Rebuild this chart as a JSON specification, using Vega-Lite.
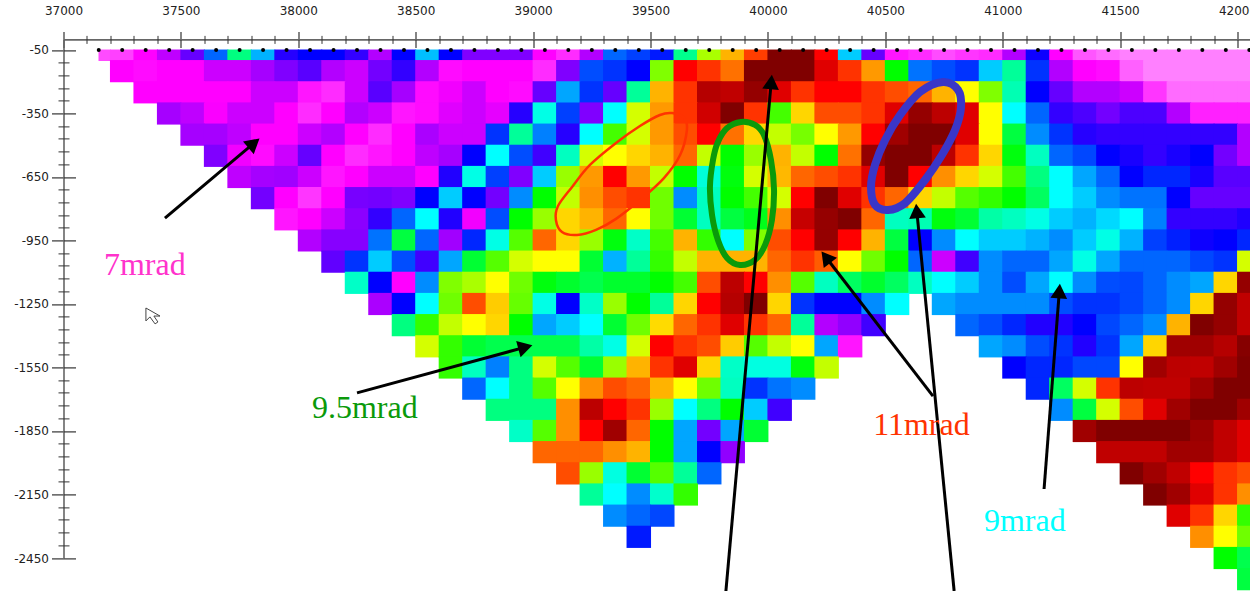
{"$schema":"https://vega.github.io/schema/vega-lite/v6.json","width":1186.5,"height":518.6,"autosize":{"type":"none"},"padding":{"left":63.5,"top":39.4,"right":0,"bottom":33},"background":"white","config":{"view":{"stroke":null},"axis":{"grid":false}},
"datasets":{"cells":[
{"x":37250,"y":-150,"v":7},{"x":37350,"y":-150,"v":6.95},{"x":37450,"y":-150,"v":7},{"x":37550,"y":-150,"v":7},{"x":37650,"y":-150,"v":7.2},{"x":37750,"y":-150,"v":7.2},{"x":37850,"y":-150,"v":7.35},{"x":37950,"y":-150,"v":7.5},{"x":38050,"y":-150,"v":7.65},{"x":38150,"y":-150,"v":7.3},{"x":38250,"y":-150,"v":7.2},{"x":38350,"y":-150,"v":7.55},{"x":38450,"y":-150,"v":7.8},{"x":38550,"y":-150,"v":7.3},{"x":38650,"y":-150,"v":6.95},{"x":38750,"y":-150,"v":7},{"x":38850,"y":-150,"v":7},{"x":38950,"y":-150,"v":7},{"x":39050,"y":-150,"v":6.8},{"x":39150,"y":-150,"v":7.5},{"x":39250,"y":-150,"v":8.3},{"x":39350,"y":-150,"v":8.2},{"x":39450,"y":-150,"v":8},{"x":39550,"y":-150,"v":9.85},{"x":39650,"y":-150,"v":10.5},{"x":39750,"y":-150,"v":10.4},{"x":39850,"y":-150,"v":10.28},{"x":39950,"y":-150,"v":11},{"x":40050,"y":-150,"v":11},{"x":40150,"y":-150,"v":11},{"x":40250,"y":-150,"v":10.6},{"x":40350,"y":-150,"v":10.4},{"x":40450,"y":-150,"v":10.2},{"x":40550,"y":-150,"v":9.7},{"x":40650,"y":-150,"v":8.45},{"x":40750,"y":-150,"v":8.3},{"x":40850,"y":-150,"v":8.2},{"x":40950,"y":-150,"v":8.8},{"x":41050,"y":-150,"v":9.4},{"x":41150,"y":-150,"v":8.2},{"x":41250,"y":-150,"v":7.3},{"x":41350,"y":-150,"v":7},{"x":41450,"y":-150,"v":6.95},{"x":41550,"y":-150,"v":6.55},{"x":41650,"y":-150,"v":6.4},{"x":41750,"y":-150,"v":6.4},{"x":41850,"y":-150,"v":6.4},{"x":41950,"y":-150,"v":6.4},{"x":42050,"y":-150,"v":6.4},
{"x":37350,"y":-250,"v":7},{"x":37450,"y":-250,"v":7},{"x":37550,"y":-250,"v":7},{"x":37650,"y":-250,"v":7},{"x":37750,"y":-250,"v":7},{"x":37850,"y":-250,"v":7.2},{"x":37950,"y":-250,"v":7.2},{"x":38050,"y":-250,"v":6.9},{"x":38150,"y":-250,"v":6.8},{"x":38250,"y":-250,"v":7.2},{"x":38350,"y":-250,"v":7.65},{"x":38450,"y":-250,"v":7.35},{"x":38550,"y":-250,"v":6.95},{"x":38650,"y":-250,"v":7.05},{"x":38750,"y":-250,"v":7.2},{"x":38850,"y":-250,"v":7},{"x":38950,"y":-250,"v":6.95},{"x":39050,"y":-250,"v":7.6},{"x":39150,"y":-250,"v":8.65},{"x":39250,"y":-250,"v":8.2},{"x":39350,"y":-250,"v":7.6},{"x":39450,"y":-250,"v":9.4},{"x":39550,"y":-250,"v":10.15},{"x":39650,"y":-250,"v":10.4},{"x":39750,"y":-250,"v":10.75},{"x":39850,"y":-250,"v":10.7},{"x":39950,"y":-250,"v":10.9},{"x":40050,"y":-250,"v":10.6},{"x":40150,"y":-250,"v":10.4},{"x":40250,"y":-250,"v":10.5},{"x":40350,"y":-250,"v":10.5},{"x":40450,"y":-250,"v":10.4},{"x":40550,"y":-250,"v":10.35},{"x":40650,"y":-250,"v":10.3},{"x":40750,"y":-250,"v":10.15},{"x":40850,"y":-250,"v":10},{"x":40950,"y":-250,"v":9.85},{"x":41050,"y":-250,"v":9.3},{"x":41150,"y":-250,"v":8},{"x":41250,"y":-250,"v":7.6},{"x":41350,"y":-250,"v":7.3},{"x":41450,"y":-250,"v":7.3},{"x":41550,"y":-250,"v":7.2},{"x":41650,"y":-250,"v":6.75},{"x":41750,"y":-250,"v":6.5},{"x":41850,"y":-250,"v":6.5},{"x":41950,"y":-250,"v":6.5},{"x":42050,"y":-250,"v":6.5},
{"x":37450,"y":-350,"v":7.35},{"x":37550,"y":-350,"v":7.25},{"x":37650,"y":-350,"v":7.02},{"x":37750,"y":-350,"v":7.2},{"x":37850,"y":-350,"v":7.2},{"x":37950,"y":-350,"v":7},{"x":38050,"y":-350,"v":6.8},{"x":38150,"y":-350,"v":7},{"x":38250,"y":-350,"v":7.3},{"x":38350,"y":-350,"v":7.2},{"x":38450,"y":-350,"v":6.9},{"x":38550,"y":-350,"v":6.95},{"x":38650,"y":-350,"v":7.12},{"x":38750,"y":-350,"v":7.2},{"x":38850,"y":-350,"v":7.1},{"x":38950,"y":-350,"v":7.85},{"x":39050,"y":-350,"v":9.1},{"x":39150,"y":-350,"v":8.25},{"x":39250,"y":-350,"v":7.5},{"x":39350,"y":-350,"v":9},{"x":39450,"y":-350,"v":9.95},{"x":39550,"y":-350,"v":10.2},{"x":39650,"y":-350,"v":10.4},{"x":39750,"y":-350,"v":10.65},{"x":39850,"y":-350,"v":11},{"x":39950,"y":-350,"v":10.4},{"x":40050,"y":-350,"v":9.78},{"x":40150,"y":-350,"v":10.08},{"x":40250,"y":-350,"v":10.35},{"x":40350,"y":-350,"v":10.35},{"x":40450,"y":-350,"v":10.4},{"x":40550,"y":-350,"v":10.6},{"x":40650,"y":-350,"v":10.9},{"x":40750,"y":-350,"v":10.72},{"x":40850,"y":-350,"v":10.6},{"x":40950,"y":-350,"v":10},{"x":41050,"y":-350,"v":9},{"x":41150,"y":-350,"v":8.4},{"x":41250,"y":-350,"v":7.8},{"x":41350,"y":-350,"v":7.7},{"x":41450,"y":-350,"v":7.55},{"x":41550,"y":-350,"v":7.7},{"x":41650,"y":-350,"v":7.7},{"x":41750,"y":-350,"v":7.3},{"x":41850,"y":-350,"v":6.85},{"x":41950,"y":-350,"v":6.85},{"x":42050,"y":-350,"v":6.85},
{"x":37550,"y":-450,"v":7.35},{"x":37650,"y":-450,"v":7.35},{"x":37750,"y":-450,"v":7.25},{"x":37850,"y":-450,"v":7},{"x":37950,"y":-450,"v":7},{"x":38050,"y":-450,"v":7.2},{"x":38150,"y":-450,"v":7.3},{"x":38250,"y":-450,"v":7},{"x":38350,"y":-450,"v":6.8},{"x":38450,"y":-450,"v":7},{"x":38550,"y":-450,"v":7.33},{"x":38650,"y":-450,"v":7.2},{"x":38750,"y":-450,"v":7.2},{"x":38850,"y":-450,"v":8.2},{"x":38950,"y":-450,"v":9.4},{"x":39050,"y":-450,"v":8.5},{"x":39150,"y":-450,"v":7.85},{"x":39250,"y":-450,"v":9},{"x":39350,"y":-450,"v":9.78},{"x":39450,"y":-450,"v":9.95},{"x":39550,"y":-450,"v":10.2},{"x":39650,"y":-450,"v":10.35},{"x":39750,"y":-450,"v":10.5},{"x":39850,"y":-450,"v":10.28},{"x":39950,"y":-450,"v":10.08},{"x":40050,"y":-450,"v":9.93},{"x":40150,"y":-450,"v":9.84},{"x":40250,"y":-450,"v":10},{"x":40350,"y":-450,"v":10.2},{"x":40450,"y":-450,"v":10.5},{"x":40550,"y":-450,"v":10.85},{"x":40650,"y":-450,"v":11},{"x":40750,"y":-450,"v":11},{"x":40850,"y":-450,"v":10.6},{"x":40950,"y":-450,"v":10},{"x":41050,"y":-450,"v":9.6},{"x":41150,"y":-450,"v":8.55},{"x":41250,"y":-450,"v":8.2},{"x":41350,"y":-450,"v":7.85},{"x":41450,"y":-450,"v":7.8},{"x":41550,"y":-450,"v":7.8},{"x":41650,"y":-450,"v":7.8},{"x":41750,"y":-450,"v":7.8},{"x":41850,"y":-450,"v":7.8},{"x":41950,"y":-450,"v":7.8},{"x":42050,"y":-450,"v":7.3},
{"x":37650,"y":-550,"v":7.5},{"x":37750,"y":-550,"v":7.05},{"x":37850,"y":-550,"v":6.95},{"x":37950,"y":-550,"v":7.2},{"x":38050,"y":-550,"v":7.6},{"x":38150,"y":-550,"v":7},{"x":38250,"y":-550,"v":6.8},{"x":38350,"y":-550,"v":6.9},{"x":38450,"y":-550,"v":7},{"x":38550,"y":-550,"v":7.25},{"x":38650,"y":-550,"v":7.35},{"x":38750,"y":-550,"v":8},{"x":38850,"y":-550,"v":9},{"x":38950,"y":-550,"v":8.3},{"x":39050,"y":-550,"v":7.75},{"x":39150,"y":-550,"v":9.25},{"x":39250,"y":-550,"v":9.95},{"x":39350,"y":-550,"v":10},{"x":39450,"y":-550,"v":10.08},{"x":39550,"y":-550,"v":10.15},{"x":39650,"y":-550,"v":10.3},{"x":39750,"y":-550,"v":9.93},{"x":39850,"y":-550,"v":9.7},{"x":39950,"y":-550,"v":9.88},{"x":40050,"y":-550,"v":10.15},{"x":40150,"y":-550,"v":9.93},{"x":40250,"y":-550,"v":9.7},{"x":40350,"y":-550,"v":10.28},{"x":40450,"y":-550,"v":10.9},{"x":40550,"y":-550,"v":11},{"x":40650,"y":-550,"v":11},{"x":40750,"y":-550,"v":10.72},{"x":40850,"y":-550,"v":10.4},{"x":40950,"y":-550,"v":10.08},{"x":41050,"y":-550,"v":9.68},{"x":41150,"y":-550,"v":9.25},{"x":41250,"y":-550,"v":8.4},{"x":41350,"y":-550,"v":8.28},{"x":41450,"y":-550,"v":8},{"x":41550,"y":-550,"v":7.9},{"x":41650,"y":-550,"v":7.8},{"x":41750,"y":-550,"v":7.9},{"x":41850,"y":-550,"v":8},{"x":41950,"y":-550,"v":7.55},{"x":42050,"y":-550,"v":7.3},
{"x":37750,"y":-650,"v":7.25},{"x":37850,"y":-650,"v":7.35},{"x":37950,"y":-650,"v":7.37},{"x":38050,"y":-650,"v":7.2},{"x":38150,"y":-650,"v":6.9},{"x":38250,"y":-650,"v":7},{"x":38350,"y":-650,"v":7.2},{"x":38450,"y":-650,"v":7.2},{"x":38550,"y":-650,"v":7},{"x":38650,"y":-650,"v":7.87},{"x":38750,"y":-650,"v":9.1},{"x":38850,"y":-650,"v":8.25},{"x":38950,"y":-650,"v":7.5},{"x":39050,"y":-650,"v":8.8},{"x":39150,"y":-650,"v":9.88},{"x":39250,"y":-650,"v":10.2},{"x":39350,"y":-650,"v":10.5},{"x":39450,"y":-650,"v":10.2},{"x":39550,"y":-650,"v":9.93},{"x":39650,"y":-650,"v":9.7},{"x":39750,"y":-650,"v":9.15},{"x":39850,"y":-650,"v":9.68},{"x":39950,"y":-650,"v":9.95},{"x":40050,"y":-650,"v":10.14},{"x":40150,"y":-650,"v":10.3},{"x":40250,"y":-650,"v":10.35},{"x":40350,"y":-650,"v":10.4},{"x":40450,"y":-650,"v":10.6},{"x":40550,"y":-650,"v":11},{"x":40650,"y":-650,"v":10.5},{"x":40750,"y":-650,"v":10.22},{"x":40850,"y":-650,"v":10.08},{"x":40950,"y":-650,"v":9.95},{"x":41050,"y":-650,"v":9.78},{"x":41150,"y":-650,"v":9.5},{"x":41250,"y":-650,"v":9},{"x":41350,"y":-650,"v":8.65},{"x":41450,"y":-650,"v":8.4},{"x":41550,"y":-650,"v":8},{"x":41650,"y":-650,"v":8.15},{"x":41750,"y":-650,"v":8.15},{"x":41850,"y":-650,"v":7.9},{"x":41950,"y":-650,"v":7.65},{"x":42050,"y":-650,"v":7.65},
{"x":37850,"y":-750,"v":7.55},{"x":37950,"y":-750,"v":7},{"x":38050,"y":-750,"v":6.75},{"x":38150,"y":-750,"v":7},{"x":38250,"y":-750,"v":7.53},{"x":38350,"y":-750,"v":7.55},{"x":38450,"y":-750,"v":7.5},{"x":38550,"y":-750,"v":8},{"x":38650,"y":-750,"v":8.8},{"x":38750,"y":-750,"v":8},{"x":38850,"y":-750,"v":7.55},{"x":38950,"y":-750,"v":8.55},{"x":39050,"y":-750,"v":9.7},{"x":39150,"y":-750,"v":9.93},{"x":39250,"y":-750,"v":10.22},{"x":39350,"y":-750,"v":10.35},{"x":39450,"y":-750,"v":10.4},{"x":39550,"y":-750,"v":9.83},{"x":39650,"y":-750,"v":8.55},{"x":39750,"y":-750,"v":9.25},{"x":39850,"y":-750,"v":9.7},{"x":39950,"y":-750,"v":9.78},{"x":40050,"y":-750,"v":9.95},{"x":40150,"y":-750,"v":10.5},{"x":40250,"y":-750,"v":11},{"x":40350,"y":-750,"v":10.6},{"x":40450,"y":-750,"v":10.4},{"x":40550,"y":-750,"v":10.3},{"x":40650,"y":-750,"v":10.08},{"x":40750,"y":-750,"v":9.93},{"x":40850,"y":-750,"v":9.8},{"x":40950,"y":-750,"v":9.76},{"x":41050,"y":-750,"v":9.7},{"x":41150,"y":-750,"v":9.55},{"x":41250,"y":-750,"v":9},{"x":41350,"y":-750,"v":8.8},{"x":41450,"y":-750,"v":8.55},{"x":41550,"y":-750,"v":8.45},{"x":41650,"y":-750,"v":8.45},{"x":41750,"y":-750,"v":8},{"x":41850,"y":-750,"v":7.6},{"x":41950,"y":-750,"v":7.6},{"x":42050,"y":-750,"v":7.6},
{"x":37950,"y":-850,"v":6.9},{"x":38050,"y":-850,"v":7},{"x":38150,"y":-850,"v":7.2},{"x":38250,"y":-850,"v":7.45},{"x":38350,"y":-850,"v":7.8},{"x":38450,"y":-850,"v":8.4},{"x":38550,"y":-850,"v":9},{"x":38650,"y":-850,"v":7.87},{"x":38750,"y":-850,"v":7.05},{"x":38850,"y":-850,"v":8.3},{"x":38950,"y":-850,"v":9.7},{"x":39050,"y":-850,"v":9.88},{"x":39150,"y":-850,"v":10.08},{"x":39250,"y":-850,"v":10.15},{"x":39350,"y":-850,"v":10.3},{"x":39450,"y":-850,"v":10},{"x":39550,"y":-850,"v":9.83},{"x":39650,"y":-850,"v":9.62},{"x":39750,"y":-850,"v":9.25},{"x":39850,"y":-850,"v":9.6},{"x":39950,"y":-850,"v":9.66},{"x":40050,"y":-850,"v":10.22},{"x":40150,"y":-850,"v":10.68},{"x":40250,"y":-850,"v":10.9},{"x":40350,"y":-850,"v":11},{"x":40450,"y":-850,"v":10.3},{"x":40550,"y":-850,"v":9.25},{"x":40650,"y":-850,"v":9.3},{"x":40750,"y":-850,"v":9.68},{"x":40850,"y":-850,"v":9.62},{"x":40950,"y":-850,"v":9.35},{"x":41050,"y":-850,"v":9.25},{"x":41150,"y":-850,"v":9.1},{"x":41250,"y":-850,"v":8.8},{"x":41350,"y":-850,"v":8.7},{"x":41450,"y":-850,"v":8.85},{"x":41550,"y":-850,"v":9},{"x":41650,"y":-850,"v":8.5},{"x":41750,"y":-850,"v":7.8},{"x":41850,"y":-850,"v":7.8},{"x":41950,"y":-850,"v":7.8},{"x":42050,"y":-850,"v":7.88},
{"x":38050,"y":-950,"v":7.3},{"x":38150,"y":-950,"v":7.47},{"x":38250,"y":-950,"v":7.47},{"x":38350,"y":-950,"v":8.45},{"x":38450,"y":-950,"v":9.6},{"x":38550,"y":-950,"v":8.4},{"x":38650,"y":-950,"v":7.37},{"x":38750,"y":-950,"v":8.15},{"x":38850,"y":-950,"v":9.1},{"x":38950,"y":-950,"v":9.8},{"x":39050,"y":-950,"v":10.3},{"x":39150,"y":-950,"v":10.08},{"x":39250,"y":-950,"v":9.88},{"x":39350,"y":-950,"v":9.68},{"x":39450,"y":-950,"v":9.22},{"x":39550,"y":-950,"v":9.78},{"x":39650,"y":-950,"v":10.15},{"x":39750,"y":-950,"v":9.76},{"x":39850,"y":-950,"v":9},{"x":39950,"y":-950,"v":9.85},{"x":40050,"y":-950,"v":10.35},{"x":40150,"y":-950,"v":10.5},{"x":40250,"y":-950,"v":10.9},{"x":40350,"y":-950,"v":10.5},{"x":40450,"y":-950,"v":10.15},{"x":40550,"y":-950,"v":9.6},{"x":40650,"y":-950,"v":8},{"x":40750,"y":-950,"v":8.55},{"x":40850,"y":-950,"v":9},{"x":40950,"y":-950,"v":8.8},{"x":41050,"y":-950,"v":8.8},{"x":41150,"y":-950,"v":8.7},{"x":41250,"y":-950,"v":8.55},{"x":41350,"y":-950,"v":8.8},{"x":41450,"y":-950,"v":9.1},{"x":41550,"y":-950,"v":8.7},{"x":41650,"y":-950,"v":8.25},{"x":41750,"y":-950,"v":8.12},{"x":41850,"y":-950,"v":7.95},{"x":41950,"y":-950,"v":8},{"x":42050,"y":-950,"v":8.15},
{"x":38150,"y":-1050,"v":7.62},{"x":38250,"y":-1050,"v":8.2},{"x":38350,"y":-1050,"v":8.8},{"x":38450,"y":-1050,"v":8.3},{"x":38550,"y":-1050,"v":7.75},{"x":38650,"y":-1050,"v":8.65},{"x":38750,"y":-1050,"v":9.62},{"x":38850,"y":-1050,"v":9.8},{"x":38950,"y":-1050,"v":9.95},{"x":39050,"y":-1050,"v":10},{"x":39150,"y":-1050,"v":10},{"x":39250,"y":-1050,"v":9.62},{"x":39350,"y":-1050,"v":8.7},{"x":39450,"y":-1050,"v":9.4},{"x":39550,"y":-1050,"v":9.76},{"x":39650,"y":-1050,"v":9.93},{"x":39750,"y":-1050,"v":10.15},{"x":39850,"y":-1050,"v":10.15},{"x":39950,"y":-1050,"v":10.15},{"x":40050,"y":-1050,"v":10.3},{"x":40150,"y":-1050,"v":10.4},{"x":40250,"y":-1050,"v":10.32},{"x":40350,"y":-1050,"v":10},{"x":40450,"y":-1050,"v":9.83},{"x":40550,"y":-1050,"v":9.7},{"x":40650,"y":-1050,"v":8.4},{"x":40750,"y":-1050,"v":7.2},{"x":40850,"y":-1050,"v":7.75},{"x":40950,"y":-1050,"v":8.55},{"x":41050,"y":-1050,"v":8.4},{"x":41150,"y":-1050,"v":8.4},{"x":41250,"y":-1050,"v":8.65},{"x":41350,"y":-1050,"v":9.1},{"x":41450,"y":-1050,"v":8.65},{"x":41550,"y":-1050,"v":8.4},{"x":41650,"y":-1050,"v":8.4},{"x":41750,"y":-1050,"v":8.4},{"x":41850,"y":-1050,"v":8.28},{"x":41950,"y":-1050,"v":8.2},{"x":42050,"y":-1050,"v":9.95},
{"x":38250,"y":-1150,"v":9.22},{"x":38350,"y":-1150,"v":8},{"x":38450,"y":-1150,"v":7},{"x":38550,"y":-1150,"v":8.55},{"x":38650,"y":-1150,"v":9.85},{"x":38750,"y":-1150,"v":9.9},{"x":38850,"y":-1150,"v":10},{"x":38950,"y":-1150,"v":9.83},{"x":39050,"y":-1150,"v":9.68},{"x":39150,"y":-1150,"v":9.63},{"x":39250,"y":-1150,"v":9.58},{"x":39350,"y":-1150,"v":9.63},{"x":39450,"y":-1150,"v":9.63},{"x":39550,"y":-1150,"v":9.7},{"x":39650,"y":-1150,"v":9.78},{"x":39750,"y":-1150,"v":10.35},{"x":39850,"y":-1150,"v":10.72},{"x":39950,"y":-1150,"v":10.5},{"x":40050,"y":-1150,"v":10.22},{"x":40150,"y":-1150,"v":9.8},{"x":40250,"y":-1150,"v":9.25},{"x":40350,"y":-1150,"v":9.55},{"x":40450,"y":-1150,"v":9.63},{"x":40550,"y":-1150,"v":9.55},{"x":40650,"y":-1150,"v":9.25},{"x":40750,"y":-1150,"v":9},{"x":40850,"y":-1150,"v":8.8},{"x":40950,"y":-1150,"v":8.55},{"x":41050,"y":-1150,"v":8.3},{"x":41150,"y":-1150,"v":8.65},{"x":41250,"y":-1150,"v":9},{"x":41350,"y":-1150,"v":8.55},{"x":41450,"y":-1150,"v":8.3},{"x":41550,"y":-1150,"v":8.28},{"x":41650,"y":-1150,"v":8.4},{"x":41750,"y":-1150,"v":8.55},{"x":41850,"y":-1150,"v":8.65},{"x":41950,"y":-1150,"v":10.08},{"x":42050,"y":-1150,"v":10.9},
{"x":38350,"y":-1250,"v":7.33},{"x":38450,"y":-1250,"v":8},{"x":38550,"y":-1250,"v":9},{"x":38650,"y":-1250,"v":9.83},{"x":38750,"y":-1250,"v":10.35},{"x":38850,"y":-1250,"v":10.1},{"x":38950,"y":-1250,"v":9.82},{"x":39050,"y":-1250,"v":9.1},{"x":39150,"y":-1250,"v":8},{"x":39250,"y":-1250,"v":9.22},{"x":39350,"y":-1250,"v":9.88},{"x":39450,"y":-1250,"v":9.7},{"x":39550,"y":-1250,"v":9.4},{"x":39650,"y":-1250,"v":10.08},{"x":39750,"y":-1250,"v":10.5},{"x":39850,"y":-1250,"v":10.75},{"x":39950,"y":-1250,"v":11},{"x":40050,"y":-1250,"v":10.08},{"x":40150,"y":-1250,"v":8.2},{"x":40250,"y":-1250,"v":8},{"x":40350,"y":-1250,"v":8},{"x":40450,"y":-1250,"v":8.55},{"x":40550,"y":-1250,"v":9},{"x":40750,"y":-1250,"v":8.65},{"x":40850,"y":-1250,"v":8.55},{"x":40950,"y":-1250,"v":8.55},{"x":41050,"y":-1250,"v":8.55},{"x":41150,"y":-1250,"v":8.55},{"x":41250,"y":-1250,"v":8.3},{"x":41350,"y":-1250,"v":8.2},{"x":41450,"y":-1250,"v":8.2},{"x":41550,"y":-1250,"v":8.28},{"x":41650,"y":-1250,"v":8.4},{"x":41750,"y":-1250,"v":8.55},{"x":41850,"y":-1250,"v":10.08},{"x":41950,"y":-1250,"v":10.9},{"x":42050,"y":-1250,"v":10.7},
{"x":38450,"y":-1350,"v":9.5},{"x":38550,"y":-1350,"v":9.76},{"x":38650,"y":-1350,"v":9.93},{"x":38750,"y":-1350,"v":10},{"x":38850,"y":-1350,"v":10.08},{"x":38950,"y":-1350,"v":9.7},{"x":39050,"y":-1350,"v":8.65},{"x":39150,"y":-1350,"v":8.8},{"x":39250,"y":-1350,"v":9},{"x":39350,"y":-1350,"v":9.62},{"x":39450,"y":-1350,"v":9.83},{"x":39550,"y":-1350,"v":10.07},{"x":39650,"y":-1350,"v":10.3},{"x":39750,"y":-1350,"v":10.4},{"x":39850,"y":-1350,"v":10.6},{"x":39950,"y":-1350,"v":10.4},{"x":40050,"y":-1350,"v":10.3},{"x":40150,"y":-1350,"v":9.4},{"x":40250,"y":-1350,"v":7.3},{"x":40350,"y":-1350,"v":7.43},{"x":40450,"y":-1350,"v":7.75},{"x":40850,"y":-1350,"v":8.4},{"x":40950,"y":-1350,"v":8.3},{"x":41050,"y":-1350,"v":8.15},{"x":41150,"y":-1350,"v":7.87},{"x":41250,"y":-1350,"v":7.87},{"x":41350,"y":-1350,"v":8},{"x":41450,"y":-1350,"v":8.28},{"x":41550,"y":-1350,"v":8.4},{"x":41650,"y":-1350,"v":8.55},{"x":41750,"y":-1350,"v":10.15},{"x":41850,"y":-1350,"v":11},{"x":41950,"y":-1350,"v":10.9},{"x":42050,"y":-1350,"v":10.7},
{"x":38550,"y":-1450,"v":9.95},{"x":38650,"y":-1450,"v":9.76},{"x":38750,"y":-1450,"v":9.62},{"x":38850,"y":-1450,"v":9.58},{"x":38950,"y":-1450,"v":9.58},{"x":39050,"y":-1450,"v":9.58},{"x":39150,"y":-1450,"v":9.58},{"x":39250,"y":-1450,"v":9.35},{"x":39350,"y":-1450,"v":9.1},{"x":39450,"y":-1450,"v":9.95},{"x":39550,"y":-1450,"v":10.5},{"x":39650,"y":-1450,"v":10.4},{"x":39750,"y":-1450,"v":10.35},{"x":39850,"y":-1450,"v":10.1},{"x":39950,"y":-1450,"v":9.8},{"x":40050,"y":-1450,"v":9.93},{"x":40150,"y":-1450,"v":10},{"x":40250,"y":-1450,"v":8.65},{"x":40350,"y":-1450,"v":6.9},{"x":40950,"y":-1450,"v":8.65},{"x":41050,"y":-1450,"v":8.55},{"x":41150,"y":-1450,"v":8.3},{"x":41250,"y":-1450,"v":8.2},{"x":41350,"y":-1450,"v":7.87},{"x":41450,"y":-1450,"v":8.2},{"x":41550,"y":-1450,"v":8.65},{"x":41650,"y":-1450,"v":10.08},{"x":41750,"y":-1450,"v":10.85},{"x":41850,"y":-1450,"v":10.85},{"x":41950,"y":-1450,"v":10.75},{"x":42050,"y":-1450,"v":10.97},
{"x":38650,"y":-1550,"v":9.76},{"x":38750,"y":-1550,"v":9.25},{"x":38850,"y":-1550,"v":8.5},{"x":38950,"y":-1550,"v":9.5},{"x":39050,"y":-1550,"v":9.95},{"x":39150,"y":-1550,"v":9.8},{"x":39250,"y":-1550,"v":9.62},{"x":39350,"y":-1550,"v":9.88},{"x":39450,"y":-1550,"v":10.15},{"x":39550,"y":-1550,"v":10.4},{"x":39650,"y":-1550,"v":10.6},{"x":39750,"y":-1550,"v":10.08},{"x":39850,"y":-1550,"v":9.22},{"x":39950,"y":-1550,"v":9.12},{"x":40050,"y":-1550,"v":9.12},{"x":40150,"y":-1550,"v":9.68},{"x":40250,"y":-1550,"v":9.93},{"x":41050,"y":-1550,"v":8},{"x":41150,"y":-1550,"v":8.15},{"x":41250,"y":-1550,"v":8.15},{"x":41350,"y":-1550,"v":8.28},{"x":41450,"y":-1550,"v":8.28},{"x":41550,"y":-1550,"v":10},{"x":41650,"y":-1550,"v":10.85},{"x":41750,"y":-1550,"v":10.72},{"x":41850,"y":-1550,"v":10.7},{"x":41950,"y":-1550,"v":10.85},{"x":42050,"y":-1550,"v":11},
{"x":38750,"y":-1650,"v":8.4},{"x":38850,"y":-1650,"v":9},{"x":38950,"y":-1650,"v":9.5},{"x":39050,"y":-1650,"v":9.8},{"x":39150,"y":-1650,"v":10},{"x":39250,"y":-1650,"v":10.22},{"x":39350,"y":-1650,"v":10.35},{"x":39450,"y":-1650,"v":10.3},{"x":39550,"y":-1650,"v":10.15},{"x":39650,"y":-1650,"v":10},{"x":39750,"y":-1650,"v":9.83},{"x":39850,"y":-1650,"v":9.25},{"x":39950,"y":-1650,"v":8.2},{"x":40050,"y":-1650,"v":8.45},{"x":40150,"y":-1650,"v":8.55},{"x":41150,"y":-1650,"v":8.15},{"x":41250,"y":-1650,"v":9.55},{"x":41350,"y":-1650,"v":9.95},{"x":41450,"y":-1650,"v":10.4},{"x":41550,"y":-1650,"v":10.72},{"x":41650,"y":-1650,"v":10.7},{"x":41750,"y":-1650,"v":10.7},{"x":41850,"y":-1650,"v":10.85},{"x":41950,"y":-1650,"v":11},{"x":42050,"y":-1650,"v":11},
{"x":38850,"y":-1750,"v":9.5},{"x":38950,"y":-1750,"v":9.5},{"x":39050,"y":-1750,"v":9.5},{"x":39150,"y":-1750,"v":10.22},{"x":39250,"y":-1750,"v":10.72},{"x":39350,"y":-1750,"v":10.5},{"x":39450,"y":-1750,"v":10.4},{"x":39550,"y":-1750,"v":9.88},{"x":39650,"y":-1750,"v":9},{"x":39750,"y":-1750,"v":9.5},{"x":39850,"y":-1750,"v":9.7},{"x":39950,"y":-1750,"v":8.8},{"x":40050,"y":-1750,"v":7.75},{"x":41250,"y":-1750,"v":8.55},{"x":41350,"y":-1750,"v":9.6},{"x":41450,"y":-1750,"v":9.95},{"x":41550,"y":-1750,"v":10.35},{"x":41650,"y":-1750,"v":10.6},{"x":41750,"y":-1750,"v":10.85},{"x":41850,"y":-1750,"v":11},{"x":41950,"y":-1750,"v":11},{"x":42050,"y":-1750,"v":10.85},
{"x":38950,"y":-1850,"v":9.22},{"x":39050,"y":-1850,"v":9.8},{"x":39150,"y":-1850,"v":10.22},{"x":39250,"y":-1850,"v":10.5},{"x":39350,"y":-1850,"v":10.85},{"x":39450,"y":-1850,"v":10.3},{"x":39550,"y":-1850,"v":9.7},{"x":39650,"y":-1850,"v":8.65},{"x":39750,"y":-1850,"v":7.55},{"x":39850,"y":-1850,"v":8.65},{"x":39950,"y":-1850,"v":9.62},{"x":41350,"y":-1850,"v":10.85},{"x":41450,"y":-1850,"v":11},{"x":41550,"y":-1850,"v":11},{"x":41650,"y":-1850,"v":11},{"x":41750,"y":-1850,"v":11},{"x":41850,"y":-1850,"v":10.88},{"x":41950,"y":-1850,"v":10.7},{"x":42050,"y":-1850,"v":10.6},
{"x":39050,"y":-1950,"v":10.3},{"x":39150,"y":-1950,"v":10.3},{"x":39250,"y":-1950,"v":10.3},{"x":39350,"y":-1950,"v":10.22},{"x":39450,"y":-1950,"v":10.15},{"x":39550,"y":-1950,"v":9.7},{"x":39650,"y":-1950,"v":8.65},{"x":39750,"y":-1950,"v":8},{"x":39850,"y":-1950,"v":7.43},{"x":41450,"y":-1950,"v":10.7},{"x":41550,"y":-1950,"v":10.7},{"x":41650,"y":-1950,"v":10.7},{"x":41750,"y":-1950,"v":10.85},{"x":41850,"y":-1950,"v":10.85},{"x":41950,"y":-1950,"v":10.7},{"x":42050,"y":-1950,"v":10.6},
{"x":39150,"y":-2050,"v":10.35},{"x":39250,"y":-2050,"v":9.88},{"x":39350,"y":-2050,"v":9.12},{"x":39450,"y":-2050,"v":9.62},{"x":39550,"y":-2050,"v":9.8},{"x":39650,"y":-2050,"v":9.4},{"x":39750,"y":-2050,"v":8.4},{"x":41550,"y":-2050,"v":11},{"x":41650,"y":-2050,"v":10.85},{"x":41750,"y":-2050,"v":10.7},{"x":41850,"y":-2050,"v":10.5},{"x":41950,"y":-2050,"v":10.4},{"x":42050,"y":-2050,"v":10.35},
{"x":39250,"y":-2150,"v":9.4},{"x":39350,"y":-2150,"v":9},{"x":39450,"y":-2150,"v":8.55},{"x":39550,"y":-2150,"v":9.2},{"x":39650,"y":-2150,"v":9.76},{"x":41650,"y":-2150,"v":11},{"x":41750,"y":-2150,"v":10.85},{"x":41850,"y":-2150,"v":10.6},{"x":41950,"y":-2150,"v":10.4},{"x":42050,"y":-2150,"v":10.22},
{"x":39350,"y":-2250,"v":8.55},{"x":39450,"y":-2250,"v":8.4},{"x":39550,"y":-2250,"v":8.28},{"x":41750,"y":-2250,"v":10.6},{"x":41850,"y":-2250,"v":10.4},{"x":41950,"y":-2250,"v":10.08},{"x":42050,"y":-2250,"v":9.76},
{"x":39450,"y":-2350,"v":8.1},{"x":41850,"y":-2350,"v":10.22},{"x":41950,"y":-2350,"v":10},{"x":42050,"y":-2350,"v":9.83},
{"x":41950,"y":-2450,"v":9.7},{"x":42050,"y":-2450,"v":9.58},
{"x":42050,"y":-2550,"v":9.6}
],
"top":[
{"x":37250,"y":-75,"v":6.7},{"x":37350,"y":-75,"v":7},{"x":37450,"y":-75,"v":7.25},{"x":37550,"y":-75,"v":7.6},{"x":37650,"y":-75,"v":8.4},{"x":37750,"y":-75,"v":9.5},{"x":37850,"y":-75,"v":8.7},{"x":37950,"y":-75,"v":7.85},{"x":38050,"y":-75,"v":8},{"x":38150,"y":-75,"v":8},{"x":38250,"y":-75,"v":7.8},{"x":38350,"y":-75,"v":7.3},{"x":38450,"y":-75,"v":8},{"x":38550,"y":-75,"v":8.75},{"x":38650,"y":-75,"v":8},{"x":38750,"y":-75,"v":7.5},{"x":38850,"y":-75,"v":7.5},{"x":38950,"y":-75,"v":7.5},{"x":39050,"y":-75,"v":7},{"x":39150,"y":-75,"v":6.8},{"x":39250,"y":-75,"v":7.3},{"x":39350,"y":-75,"v":8.4},{"x":39450,"y":-75,"v":8.25},{"x":39550,"y":-75,"v":8.1},{"x":39650,"y":-75,"v":9.45},{"x":39750,"y":-75,"v":9.9},{"x":39850,"y":-75,"v":10.15},{"x":39950,"y":-75,"v":10.38},{"x":40050,"y":-75,"v":11},{"x":40150,"y":-75,"v":11},{"x":40250,"y":-75,"v":10.5},{"x":40350,"y":-75,"v":8.8},{"x":40450,"y":-75,"v":7.6},{"x":40550,"y":-75,"v":6.9},{"x":40650,"y":-75,"v":6.8},{"x":40750,"y":-75,"v":6.65},{"x":40850,"y":-75,"v":6.75},{"x":40950,"y":-75,"v":6.8},{"x":41050,"y":-75,"v":7.3},{"x":41150,"y":-75,"v":7.95},{"x":41250,"y":-75,"v":7},{"x":41350,"y":-75,"v":6.6},{"x":41450,"y":-75,"v":6.5},{"x":41550,"y":-75,"v":6.4},{"x":41650,"y":-75,"v":6.4},{"x":41750,"y":-75,"v":6.4},{"x":41850,"y":-75,"v":6.4},{"x":41950,"y":-75,"v":6.4},{"x":42050,"y":-75,"v":6.4}
],
"dots":[{"x":37150,"y":-50},{"x":37250,"y":-50},{"x":37350,"y":-50},{"x":37450,"y":-50},{"x":37550,"y":-50},{"x":37650,"y":-50},{"x":37750,"y":-50},{"x":37850,"y":-50},{"x":37950,"y":-50},{"x":38050,"y":-50},{"x":38150,"y":-50},{"x":38250,"y":-50},{"x":38350,"y":-50},{"x":38450,"y":-50},{"x":38550,"y":-50},{"x":38650,"y":-50},{"x":38750,"y":-50},{"x":38850,"y":-50},{"x":38950,"y":-50},{"x":39050,"y":-50},{"x":39150,"y":-50},{"x":39250,"y":-50},{"x":39350,"y":-50},{"x":39450,"y":-50},{"x":39550,"y":-50},{"x":39650,"y":-50},{"x":39750,"y":-50},{"x":39850,"y":-50},{"x":39950,"y":-50},{"x":40050,"y":-50},{"x":40150,"y":-50},{"x":40250,"y":-50},{"x":40350,"y":-50},{"x":40450,"y":-50},{"x":40550,"y":-50},{"x":40650,"y":-50},{"x":40750,"y":-50},{"x":40850,"y":-50},{"x":40950,"y":-50},{"x":41050,"y":-50},{"x":41150,"y":-50},{"x":41250,"y":-50},{"x":41350,"y":-50},{"x":41450,"y":-50},{"x":41550,"y":-50},{"x":41650,"y":-50},{"x":41750,"y":-50},{"x":41850,"y":-50},{"x":41950,"y":-50},{"x":42050,"y":-50}],
"anchor":[{"x":37000,"y":0}]
},
"encoding":{"x":{"field":"x","type":"quantitative","scale":{"domain":[37000,42053],"nice":false,"zero":false},"axis":null},"y":{"field":"y","type":"quantitative","scale":{"domain":[-2450,0],"nice":false,"zero":false},"axis":null}},
"layer":[
{"data":{"values":[{"x":37175,"y":-75,"v":6.65}]},"mark":{"type":"rect","width":12.2,"height":11.5},"encoding":{"color":{"field":"v","type":"quantitative","legend":null,"scale":{"domain":[6.4,7,8,9,9.5,9.7,10,10.25,10.5,10.7,11],"range":["#ff80ff","#ff00ff","#0000ff","#00ffff","#00ff80","#00ff00","#ffff00","#ff8000","#ff0000","#c00000","#800000"],"interpolate":"rgb"}}}},
{"data":{"name":"top"},"mark":{"type":"rect","width":24.5,"height":11.5},"encoding":{"color":{"field":"v","type":"quantitative","legend":null,"scale":{"domain":[6.4,7,8,9,9.5,9.7,10,10.25,10.5,10.7,11],"range":["#ff80ff","#ff00ff","#0000ff","#00ffff","#00ff80","#00ff00","#ffff00","#ff8000","#ff0000","#c00000","#800000"],"interpolate":"rgb"}}}},
{"data":{"name":"cells"},"mark":{"type":"rect","width":24.5,"height":22.2},"encoding":{"color":{"field":"v","type":"quantitative","legend":null,"scale":{"domain":[6.4,7,8,9,9.5,9.7,10,10.25,10.5,10.7,11],"range":["#ff80ff","#ff00ff","#0000ff","#00ffff","#00ff80","#00ff00","#ffff00","#ff8000","#ff0000","#c00000","#800000"],"interpolate":"rgb"}}}},
{"data":{"name":"dots"},"mark":{"type":"point","filled":true,"color":"black","opacity":1,"size":16}},
{"data":{"name":"anchor"},"mark":{"type":"point","opacity":0},"encoding":{
"x":{"field":"x","type":"quantitative","axis":{"orient":"top","values":[37000,37500,38000,38500,39000,39500,40000,40500,41000,41500,42000],"labelExpr":"'' + datum.value","tickSize":8,"tickColor":"#333","tickWidth":1.2,"domainColor":"#666","domainWidth":1.6,"labelFont":"DejaVu Sans","labelFontSize":12,"labelColor":"#222","labelPadding":14,"title":null,"labelOverlap":false,"labelFlush":false,"labelBound":false}},
"y":{"field":"y","type":"quantitative","axis":{"orient":"left","values":[-50,-350,-650,-950,-1250,-1550,-1850,-2150,-2450],"labelExpr":"'' + datum.value","tickSize":12,"tickColor":"#333","tickWidth":1.2,"domainColor":"#666","domainWidth":1.6,"labelFont":"DejaVu Sans","labelFontSize":12,"labelColor":"#222","labelPadding":3,"title":null,"labelOverlap":false,"labelFlush":false,"labelBound":false}}}},
{"data":{"name":"anchor"},"mark":{"type":"point","opacity":0},"encoding":{
"x":{"field":"x","type":"quantitative","axis":{"orient":"top","values":[37000,37500,38000,38500,39000,39500,40000,40500,41000,41500,42000],"tickSize":-8,"tickColor":"#333","tickWidth":1.2,"domain":false,"labels":false,"title":null}},
"y":{"field":"y","type":"quantitative","axis":{"orient":"left","values":[-50,-350,-650,-950,-1250,-1550,-1850,-2150,-2450],"tickSize":-12,"tickColor":"#333","tickWidth":1.2,"domain":false,"labels":false,"title":null}}}},
{"data":{"name":"anchor"},"mark":{"type":"point","opacity":0},"encoding":{
"x":{"field":"x","type":"quantitative","axis":{"orient":"top","values":[37100,37200,37300,37400,37600,37700,37800,37900,38100,38200,38300,38400,38600,38700,38800,38900,39100,39200,39300,39400,39600,39700,39800,39900,40100,40200,40300,40400,40600,40700,40800,40900,41100,41200,41300,41400,41600,41700,41800,41900],"tickSize":4,"tickColor":"#333","tickWidth":1,"domain":false,"labels":false,"title":null}},
"y":{"field":"y","type":"quantitative","axis":{"orient":"left","values":[-110,-170,-230,-290,-410,-470,-530,-590,-710,-770,-830,-890,-1010,-1070,-1130,-1190,-1310,-1370,-1430,-1490,-1610,-1670,-1730,-1790,-1910,-1970,-2030,-2090,-2210,-2270,-2330,-2390],"tickSize":5.5,"tickColor":"#333","tickWidth":1,"domain":false,"labels":false,"title":null}}}},
{"data":{"name":"anchor"},"mark":{"type":"point","opacity":0},"encoding":{
"x":{"field":"x","type":"quantitative","axis":{"orient":"top","values":[37100,37200,37300,37400,37600,37700,37800,37900,38100,38200,38300,38400,38600,38700,38800,38900,39100,39200,39300,39400,39600,39700,39800,39900,40100,40200,40300,40400,40600,40700,40800,40900,41100,41200,41300,41400,41600,41700,41800,41900],"tickSize":-4,"tickColor":"#333","tickWidth":1,"domain":false,"labels":false,"title":null}},
"y":{"field":"y","type":"quantitative","axis":{"orient":"left","values":[-110,-170,-230,-290,-410,-470,-530,-590,-710,-770,-830,-890,-1010,-1070,-1130,-1190,-1310,-1370,-1430,-1490,-1610,-1670,-1730,-1790,-1910,-1970,-2030,-2090,-2210,-2270,-2330,-2390],"tickSize":-5.5,"tickColor":"#333","tickWidth":1,"domain":false,"labels":false,"title":null}}}},
{"data":{"values":[{"i":0,"x":39592,"y":-348},{"i":1,"x":39643,"y":-371},{"i":2,"x":39655,"y":-428},{"i":3,"x":39626,"y":-546},{"i":4,"x":39557,"y":-655},{"i":5,"x":39455,"y":-759},{"i":6,"x":39353,"y":-848},{"i":7,"x":39268,"y":-900},{"i":8,"x":39187,"y":-924},{"i":9,"x":39123,"y":-910},{"i":10,"x":39097,"y":-853},{"i":11,"x":39106,"y":-787},{"i":12,"x":39166,"y":-697},{"i":13,"x":39242,"y":-593},{"i":14,"x":39353,"y":-489},{"i":15,"x":39455,"y":-409},{"i":16,"x":39540,"y":-357}]},"mark":{"type":"line","interpolate":"cardinal-closed","color":"#ff3300","strokeWidth":2.5},"encoding":{"order":{"field":"i","type":"quantitative"}}},
{"data":{"values":[{"i":0,"x":39885,"y":-390},{"i":1,"x":39945,"y":-404},{"i":2,"x":39983,"y":-452},{"i":3,"x":40013,"y":-570},{"i":4,"x":40026,"y":-711},{"i":5,"x":40017,"y":-853},{"i":6,"x":39988,"y":-971},{"i":7,"x":39945,"y":-1042},{"i":8,"x":39881,"y":-1066},{"i":9,"x":39826,"y":-1033},{"i":10,"x":39787,"y":-948},{"i":11,"x":39762,"y":-830},{"i":12,"x":39753,"y":-697},{"i":13,"x":39766,"y":-570},{"i":14,"x":39787,"y":-485},{"i":15,"x":39826,"y":-419}]},"mark":{"type":"line","interpolate":"cardinal-closed","color":"#0a9a0a","strokeWidth":6},"encoding":{"order":{"field":"i","type":"quantitative"}}},
{"data":{"values":[{"i":0,"x":40746,"y":-201},{"i":1,"x":40810,"y":-239},{"i":2,"x":40822,"y":-324},{"i":3,"x":40797,"y":-428},{"i":4,"x":40741,"y":-546},{"i":5,"x":40669,"y":-664},{"i":6,"x":40584,"y":-773},{"i":7,"x":40511,"y":-806},{"i":8,"x":40456,"y":-782},{"i":9,"x":40439,"y":-697},{"i":10,"x":40456,"y":-593},{"i":11,"x":40499,"y":-475},{"i":12,"x":40563,"y":-357},{"i":13,"x":40648,"y":-248}]},"mark":{"type":"line","interpolate":"cardinal-closed","color":"#3a36c8","strokeWidth":8},"encoding":{"order":{"field":"i","type":"quantitative"}}},
{"data":{"values":[{"a":"a1","i":0,"x":37432,"y":-844},{"a":"a1","i":1,"x":37811,"y":-490},{"a":"a2","i":0,"x":38250,"y":-1670},{"a":"a2","i":1,"x":38967,"y":-1454},{"a":"a3","i":0,"x":39821,"y":-2606},{"a":"a3","i":1,"x":40014,"y":-201},{"a":"a4","i":0,"x":40703,"y":-1685},{"a":"a4","i":1,"x":40247,"y":-1029},{"a":"a5","i":0,"x":40793,"y":-2606},{"a":"a5","i":1,"x":40634,"y":-811},{"a":"a6","i":0,"x":41176,"y":-2124},{"a":"a6","i":1,"x":41241,"y":-1189}]},"mark":{"type":"line","color":"black","strokeWidth":3},"encoding":{"detail":{"field":"a"},"order":{"field":"i","type":"quantitative"}}},
{"data":{"values":[{"x":37811,"y":-490,"heading":49.9},{"x":38967,"y":-1454,"heading":74.8},{"x":40014,"y":-201,"heading":5.1},{"x":40247,"y":-1029,"heading":-37.7},{"x":40634,"y":-811,"heading":-5.6},{"x":41241,"y":-1189,"heading":4.4}]},"mark":{"type":"point","shape":"triangle-up","filled":true,"color":"black","opacity":1,"size":280},"encoding":{"angle":{"field":"heading","type":"quantitative","scale":null}}},
{"data":{"values":[{"i":0,"x":37351,"y":-1269},{"i":1,"x":37351,"y":-1330},{"i":2,"x":37368,"y":-1311},{"i":3,"x":37390,"y":-1344},{"i":4,"x":37402,"y":-1335},{"i":5,"x":37385,"y":-1307},{"i":6,"x":37411,"y":-1307}]},"mark":{"type":"line","interpolate":"linear-closed","color":"#444","strokeWidth":1},"encoding":{"order":{"field":"i","type":"quantitative"}}},
{"data":{"values":[{"x":37172,"y":-1113,"label":"7mrad"}]},"mark":{"type":"text","align":"left","baseline":"alphabetic","font":"Liberation Serif","fontSize":32,"color":"#ff33cc"},"encoding":{"text":{"field":"label"}}},
{"data":{"values":[{"x":38058,"y":-1789,"label":"9.5mrad"}]},"mark":{"type":"text","align":"left","baseline":"alphabetic","font":"Liberation Serif","fontSize":32,"color":"#0a9a0a"},"encoding":{"text":{"field":"label"}}},
{"data":{"values":[{"x":40448,"y":-1869,"label":"11mrad"}]},"mark":{"type":"text","align":"left","baseline":"alphabetic","font":"Liberation Serif","fontSize":32,"color":"#ff3300"},"encoding":{"text":{"field":"label"}}},
{"data":{"values":[{"x":40920,"y":-2322,"label":"9mrad"}]},"mark":{"type":"text","align":"left","baseline":"alphabetic","font":"Liberation Serif","fontSize":32,"color":"#00ffff"},"encoding":{"text":{"field":"label"}}}
],
"resolve":{"axis":{"x":"independent","y":"independent"}}
}
